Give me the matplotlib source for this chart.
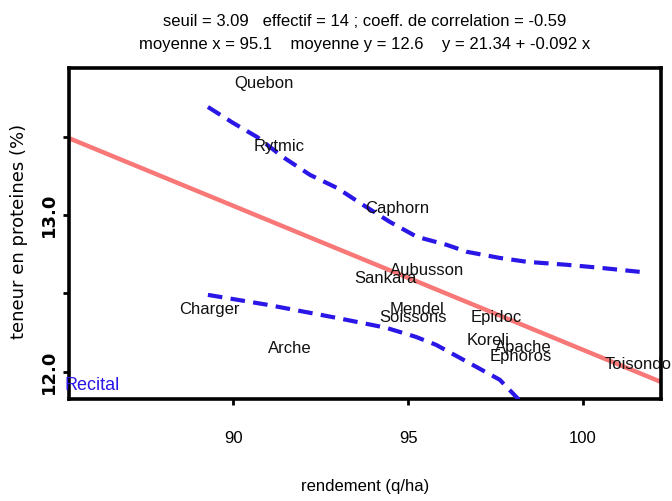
import matplotlib
matplotlib.use("Agg")
import matplotlib.pyplot as plt
import numpy as np

# varietes : rendement (q/ha) et teneur en proteines (%)
names = ["Quebon", "Rytmic", "Caphorn", "Aubusson", "Sankara", "Mendel", "Soissons",
         "Epidoc", "Koreli", "Apache", "Ephoros", "Toisondor", "Charger", "Arche"]
rdt = [90.88, 91.31, 94.68, 95.54, 94.34, 95.25, 95.14,
       97.51, 97.28, 98.28, 98.22, 101.65, 89.31, 91.62]
prot = [13.84, 13.44, 13.04, 12.645, 12.593, 12.396, 12.345,
        12.345, 12.198, 12.153, 12.096, 12.045, 12.396, 12.147]
# point isole (en bleu)
out_name = "Recital"
out_rdt = 85.97
out_prot = 11.91

# droite de regression
intercept = 21.34
slope = -0.092

# bandes de confiance
up_x = [89.28, 90.00, 90.68, 91.42, 92.20, 92.97, 93.71, 94.48, 95.25, 96.11,
        96.68, 97.62, 98.40, 99.54, 100.48, 101.62]
up_y = [13.691, 13.589, 13.500, 13.372, 13.257, 13.174, 13.066, 12.957, 12.862, 12.810,
        12.766, 12.727, 12.702, 12.683, 12.664, 12.638]
lo_x = [89.28, 90.97, 92.94, 94.37, 95.22, 95.80, 96.74, 97.62, 98.17]
lo_y = [12.491, 12.428, 12.345, 12.281, 12.223, 12.172, 12.057, 11.949, 11.821]

xticks = [90, 95, 100]
yticks = [12.0, 12.5, 13.0, 13.5]
ytick_labels = ["12.0", "", "13.0", ""]

plt.rcParams['font.family'] = ["Liberation Sans", "DejaVu Sans"]

fig = plt.figure(figsize=(6.72, 5.01), dpi=100)
ax = fig.add_axes([0.1027, 0.2036, 0.881, 0.6607])
xmin, xmax = 85.31, 102.23
ax.set_xlim(xmin, xmax)
ax.set_ylim(11.826, 13.94)

xl = np.array([xmin, xmax])
ax.plot(xl, intercept + slope * xl, color="#f87878", lw=3.2, solid_capstyle="butt", zorder=2)
ax.plot(up_x, up_y, color="#2a16e6", lw=3.0, dashes=(3.5, 2), zorder=3)
ax.plot(lo_x, lo_y, color="#2a16e6", lw=3.0, dashes=(3.5, 2), zorder=3)

for n, xv, yv in zip(names, rdt, prot):
    ax.text(xv, yv, n, ha="center", va="center", fontsize=12, color="#111111",
            clip_on=False, zorder=4)
ax.text(out_rdt, out_prot, out_name, ha="center", va="center", fontsize=13,
        color="#2a16e6", zorder=4)

for s in ax.spines.values():
    s.set_linewidth(2.6)
    s.set_color("black")

ax.set_xticks(xticks)
ax.set_xticklabels([str(t) for t in xticks], fontsize=12)
ax.set_yticks(yticks)
ax.set_yticklabels(ytick_labels, fontsize=13, rotation=90, va="center",
                   family="DejaVu Sans", fontweight="bold")
ax.tick_params(axis="x", length=4, width=2, pad=19)
ax.tick_params(axis="y", length=4, width=2, pad=4)

ax.set_xlabel("rendement (q/ha)", fontsize=12, labelpad=24)
ax.set_ylabel("teneur en proteines (%)", fontsize=13, family="DejaVu Sans")
ax.yaxis.set_label_coords(-0.07, 0.505)

ax.set_title("seuil = 3.09   effectif = 14 ; coeff. de correlation = -0.59\n"
             "moyenne x = 95.1    moyenne y = 12.6    y = 21.34 + -0.092 x",
             fontsize=12, linespacing=1.6, pad=14)

fig.savefig("out.png", dpi=100)
